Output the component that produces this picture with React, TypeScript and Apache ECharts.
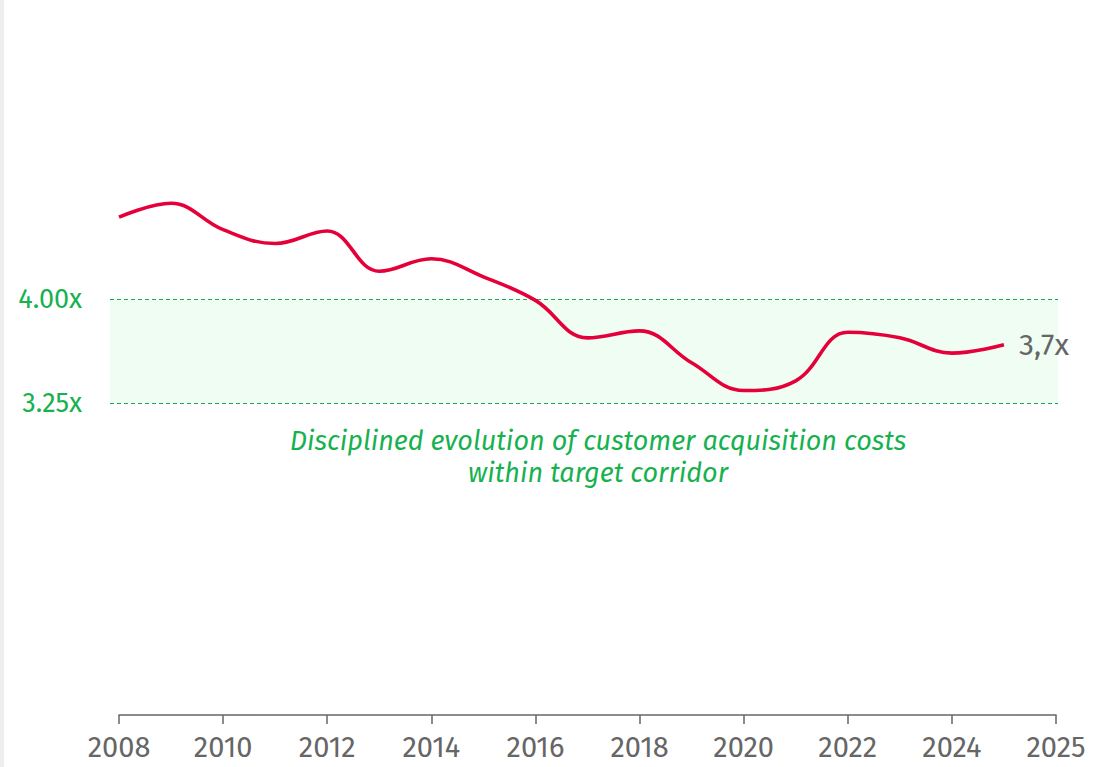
import React, { useEffect, useRef } from "react";
import * as echarts from "echarts";

const years = [2008, 2009, 2010, 2011, 2012, 2013, 2014, 2015, 2016, 2017, 2018, 2019, 2020, 2021, 2022, 2023, 2024, 2025];
const values = [4.59, 4.69, 4.5, 4.4, 4.49, 4.2, 4.29, 4.16, 3.99, 3.72, 3.77, 3.54, 3.34, 3.41, 3.76, 3.72, 3.61, 3.67];
const xTickLabels = ["2008", "2010", "2012", "2014", "2016", "2018", "2020", "2022", "2024", "2025"];
const corridorLow = 3.25;
const corridorHigh = 4.0;
const corridorLabels = [corridorLow, corridorHigh];
const annotation = "Disciplined evolution of customer acquisition costs\nwithin target corridor";
const endLabelText = "3,7x";

const FONT = "'Fira Sans', 'Open Sans', sans-serif";
const GREEN = "#17b150";
const RED = "#e5003a";
const GRAY = "#666666";

export default function App() {
  const ref = useRef<HTMLDivElement>(null);
  useEffect(() => {
    if (!ref.current) return;
    const chart = echarts.init(ref.current, null, { renderer: "svg" });
    const xMin = 2008;
    const xMax = 2026;
    const yMin = 1;
    const yMax = 5.5;
    const option: any = {
      animation: false,
      backgroundColor: "#ffffff",
      grid: [
        { left: 119, right: 53, top: 91, bottom: 52, containLabel: false },
        { left: 110, right: 51, top: 91, bottom: 52, containLabel: false },
      ],
      xAxis: [
        {
          type: "value",
          gridIndex: 0,
          min: xMin,
          max: xMax,
          interval: 2,
          axisLine: { show: true, lineStyle: { color: GRAY, width: 1.5 } },
          axisTick: { show: true, length: 9, lineStyle: { color: GRAY, width: 1.5 } },
          splitLine: { show: false },
          axisLabel: {
            color: GRAY,
            fontSize: 29,
            fontFamily: FONT,
            margin: 18,
            formatter: (v: number) => xTickLabels[Math.round((v - xMin) / 2)] ?? "",
          },
        },
        {
          type: "value",
          gridIndex: 1,
          min: 0,
          max: 1,
          show: false,
        },
      ],
      yAxis: [
        {
          type: "value",
          gridIndex: 0,
          min: yMin,
          max: yMax,
          axisLine: { show: false },
          axisTick: { show: false },
          splitLine: { show: false },
          axisLabel: {
            show: true,
            customValues: corridorLabels,
            color: GREEN,
            fontSize: 27,
            fontFamily: FONT,
            margin: 37,
            formatter: (v: number) => v.toFixed(2) + "x",
          },
        },
        {
          type: "value",
          gridIndex: 1,
          min: yMin,
          max: yMax,
          show: false,
        },
      ],
      series: [
        {
          type: "line",
          xAxisIndex: 1,
          yAxisIndex: 1,
          data: [],
          silent: true,
          z: 1,
          markArea: {
            silent: true,
            itemStyle: { color: "#effdf3" },
            data: [[{ yAxis: corridorHigh }, { yAxis: corridorLow }]],
          },
          markLine: {
            silent: true,
            symbol: "none",
            label: { show: false },
            lineStyle: { color: "#1fa657", width: 1.2, type: [4, 3] },
            data: [{ yAxis: corridorHigh }, { yAxis: corridorLow }],
          },
        },
        {
          type: "line",
          xAxisIndex: 0,
          yAxisIndex: 0,
          data: years.map((y, i) => [y, values[i]]),
          smooth: 0.4,
          symbol: "none",
          clip: false,
          lineStyle: { color: RED, width: 3.6 },
          endLabel: {
            show: true,
            formatter: () => endLabelText,
            color: GRAY,
            fontSize: 30,
            fontFamily: FONT,
            distance: 15,
          },
          z: 5,
        },
      ],
      graphic: [
        { type: "rect", left: 0, top: 0, shape: { width: 4, height: 767 }, style: { fill: "#eeeeee" }, silent: true },
        {
          type: "text",
          x: 598,
          y: 425,
          style: {
            text: annotation,
            fill: GREEN,
            font: `italic 27px ${FONT}`,
            textAlign: "center",
            textVerticalAlign: "top",
            lineHeight: 32,
          },
          silent: true,
        },
      ],
    };
    chart.setOption(option);
    return () => chart.dispose();
  }, []);
  return <div ref={ref} style={{ position: "fixed", left: 0, top: 0, width: 1109, height: 767 }} />;
}
